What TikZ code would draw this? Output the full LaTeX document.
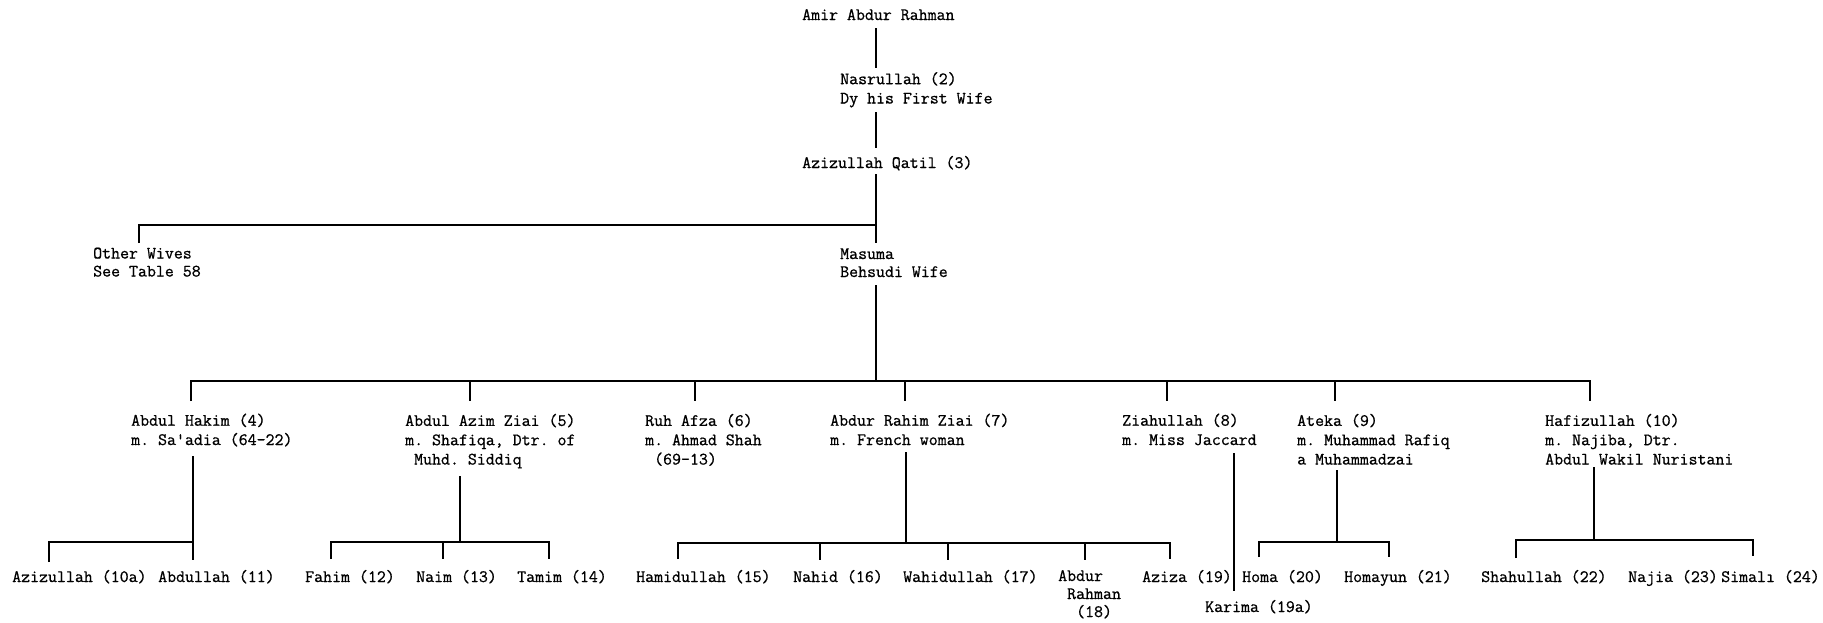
\documentclass[tikz,border=0pt]{standalone}
\usepackage{fontspec}
\setmonofont[FakeBold=0.8]{Latin Modern Mono}
\tikzset{
  lbl/.style={anchor=base west, inner sep=0pt, align=left,
    font=\ttfamily\fontsize{17.4}{19.3}\selectfont},
  lbltight/.style={lbl, font=\ttfamily\fontsize{17.4}{18}\selectfont},
  lnk/.style={line width=2pt, line cap=butt, line join=miter},
}
\begin{document}
\begin{tikzpicture}[x=1pt,y=-1pt]
\useasboundingbox[fill=white] (0,0) rectangle (1823,622);

% (base anchor of a multi-line node = baseline of its last line)
% ---------- ancestors ----------
\node[lbl] (amir)   at (802,20)  {Amir Abdur Rahman};
\node[lbl] (nasr)   at (840,103.5) {Nasrullah (2)\\Dy his First Wife};
\node[lbl] (qatil)  at (802,168) {Azizullah Qatil (3)};
\node[lbltight] (other)  at (93,276.5)  {Other Wives\\See Table 58};
\node[lbltight] (masuma) at (840,277) {Masuma\\Behsudi Wife};

% ---------- generation 4 ----------
\node[lbl] (hakim) at (131,445)  {Abdul Hakim (4)\\m. Sa'adia (64-22)};
\node[lbl] (azim)  at (405,464.5)  {Abdul Azim Ziai (5)\\m. Shafiqa, Dtr. of\\~Muhd. Siddiq};
\node[lbl] (ruh)   at (645,464.5)  {Ruh Afza (6)\\m. Ahmad Shah\\~(69-13)};
\node[lbl] (rahim) at (830,445)  {Abdur Rahim Ziai (7)\\m. French woman};
\node[lbl] (ziah)  at (1122,445) {Ziahullah (8)\\m. Miss Jaccard};
\node[lbl] (ateka) at (1297,464.5) {Ateka (9)\\m. Muhammad Rafiq\\a Muhammadzai};
\node[lbl] (hafiz) at (1545,464.5) {Hafizullah (10)\\m. Najiba, Dtr.\\Abdul Wakil Nuristani};

% ---------- generation 5 ----------
\node[lbl] (c10a) at (12,582)   {Azizullah (10a)};
\node[lbl] (c11)  at (158,582)  {Abdullah (11)};
\node[lbl] (c12)  at (305,582)  {Fahim (12)};
\node[lbl] (c13)  at (416,582)  {Naim (13)};
\node[lbl] (c14)  at (517,582)  {Tamim (14)};
\node[lbl] (c15)  at (636,582)  {Hamidullah (15)};
\node[lbl] (c16)  at (793,582)  {Nahid (16)};
\node[lbl] (c17)  at (903,582)  {Wahidullah (17)};
\node[lbltight] (c18)  at (1058,617) {Abdur\\~Rahman\\~~(18)};
\node[lbl] (c19)  at (1142,582) {Aziza (19)};
\node[lbl] (c19a) at (1205,612) {Karima (19a)};
\node[lbl] (c20)  at (1242,582) {Homa (20)};
\node[lbl] (c21)  at (1344,582) {Homayun (21)};
\node[lbl] (c22)  at (1481,582) {Shahullah (22)};
\node[lbl] (c23)  at (1628,582) {Najia (23)};
\node[lbl] (c24)  at (1721,582) {Simalı (24)};

% ---------- junction coordinates ----------
\coordinate (amirB)   at (876,28);
\coordinate (nasrT)   at (876,68);
\coordinate (nasrB)   at (876,112);
\coordinate (qatilT)  at (876,148);
\coordinate (qatilB)  at (876,174);
\coordinate (wivesJ)  at (876,225);
\coordinate (masumaT) at (876,243);
\coordinate (otherJ)  at (139,225);
\coordinate (otherT)  at (139,243);
\coordinate (masumaB) at (876,285);
\coordinate (g4J)     at (876,381);
\coordinate (g4L)     at (191,381);
\coordinate (g4R)     at (1590,381);

% ---------- connectors: ancestors ----------
\draw[lnk] (amirB) -- (nasrT);
\draw[lnk] (nasrB) -- (qatilT);
\draw[lnk] (qatilB) -- (masumaT);
\draw[lnk] (otherT) -- (otherJ) -- (wivesJ);
\draw[lnk] (masumaB) -- (g4J);

% ---------- generation 4 bar ----------
\draw[lnk] (191,401) -- (g4L) -- (g4R) -- (1590,401);
\foreach \x in {470,695,905,1167,1335}
  \draw[lnk] (\x,381) -- (\x,401);

% ---------- generation 5 bars ----------
% Abdul Hakim
\draw[lnk] (193,456) -- (193,560);
\draw[lnk] (49,562) -- (49,542) -- (193,542);
% Abdul Azim
\draw[lnk] (460,476) -- (460,542);
\draw[lnk] (331,559) -- (331,542) -- (549,542) -- (549,559);
\draw[lnk] (443,542) -- (443,559);
% Abdur Rahim
\draw[lnk] (906,452) -- (906,543);
\draw[lnk] (678,559) -- (678,543) -- (1170,543) -- (1170,559);
\foreach \x in {820,948,1085}
  \draw[lnk] (\x,543) -- (\x,560);
% Ziahullah
\draw[lnk] (1234,453) -- (1234,591);
% Ateka
\draw[lnk] (1337,470) -- (1337,542);
\draw[lnk] (1259,557) -- (1259,542) -- (1389,542) -- (1389,557);
% Hafizullah
\draw[lnk] (1594,467) -- (1594,540);
\draw[lnk] (1516,558) -- (1516,540) -- (1753,540) -- (1753,556);
\end{tikzpicture}
\end{document}
